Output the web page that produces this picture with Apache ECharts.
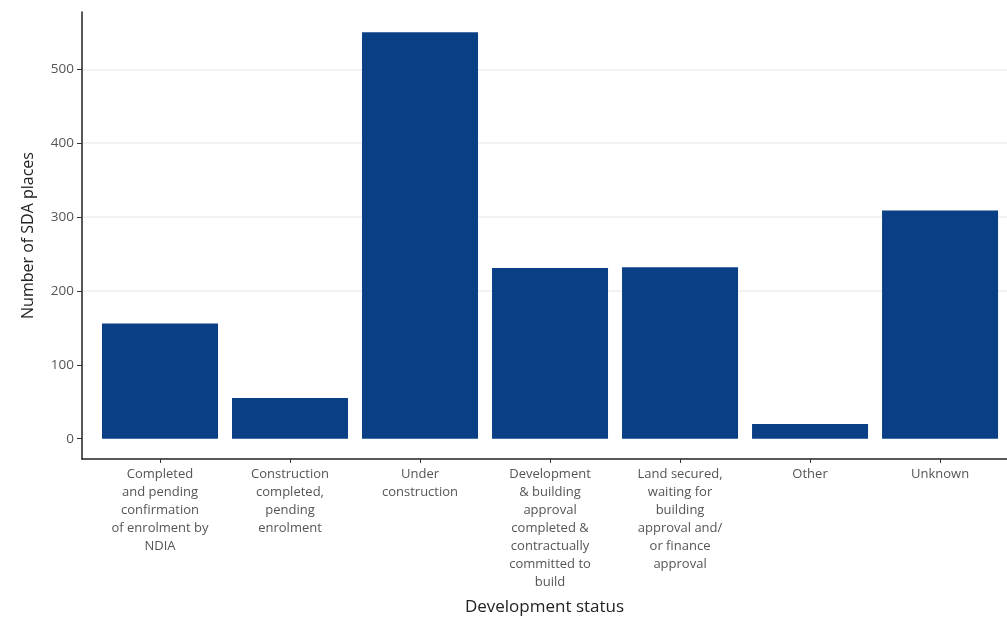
<!DOCTYPE html>
<html>
<head>
<meta charset="utf-8">
<script src="https://cdn.jsdelivr.net/npm/echarts@6/dist/echarts.min.js"></script>
<style>html,body{margin:0;padding:0;background:#fff}#c{width:1007px;height:628px}</style>
</head>
<body>
<div id="c"></div>
<script>
const categories = [
  "Completed\nand pending\nconfirmation\nof enrolment by\nNDIA",
  "Construction\ncompleted,\npending\nenrolment",
  "Under\nconstruction",
  "Development\n& building\napproval\ncompleted &\ncontractually\ncommitted to\nbuild",
  "Land secured,\nwaiting for\nbuilding\napproval and/\nor finance\napproval",
  "Other",
  "Unknown"
];
const values = [156, 55, 550, 231, 232, 20, 309];
const yTicks = [0, 100, 200, 300, 400, 500];
const gridLines = [200, 300, 400, 500];

const chart = echarts.init(document.getElementById('c'), null, {renderer: 'canvas'});
const font = '"Open Sans", "Noto Sans", sans-serif';
const catIdx = categories.map((c, i) => i);
chart.setOption({
  animation: false,
  backgroundColor: '#ffffff',
  grid: {left: 82, top: 12, right: 0, bottom: 169, containLabel: false},
  xAxis: {
    type: 'value',
    min: -0.6, max: 6.515,
    name: 'Development status',
    nameLocation: 'middle',
    nameGap: 140,
    nameTextStyle: {fontFamily: font, fontSize: 17, color: '#222'},
    axisLine: {show: true, onZero: false, lineStyle: {color: '#222', width: 1.5}},
    axisTick: {show: true, length: 4, lineStyle: {color: '#333'}, customValues: catIdx},
    axisLabel: {
      customValues: catIdx,
      formatter: v => categories[Math.round(v)] || '',
      fontFamily: font, fontSize: 13, color: '#555', lineHeight: 18, margin: 6, align: 'center'
    },
    splitLine: {show: false}
  },
  yAxis: {
    type: 'value',
    min: -27.5, max: 577.5,
    name: 'Number of SDA places',
    nameLocation: 'middle',
    nameGap: 46,
    nameTextStyle: {fontFamily: font, fontSize: 16, color: '#222'},
    axisLine: {show: true, onZero: false, lineStyle: {color: '#222', width: 1.5}},
    axisTick: {show: true, length: 5, lineStyle: {color: '#333'}, customValues: yTicks},
    axisLabel: {customValues: yTicks, fontFamily: font, fontSize: 13.5, color: '#555', margin: 8},
    splitLine: {show: false}
  },
  series: [{
    type: 'line',
    data: [],
    z: 0,
    silent: true,
    markLine: {
      z: 0,
      silent: true,
      symbol: 'none',
      label: {show: false},
      lineStyle: {color: '#eeeeee', type: 'solid', width: 1.5},
      data: gridLines.map(v => ({yAxis: v}))
    }
  }, {
    type: 'bar',
    data: values.map((v, i) => [i, v]),
    barWidth: 116,
    itemStyle: {color: '#0b3f85'},
    z: 5
  }]
});
</script>
</body>
</html>
